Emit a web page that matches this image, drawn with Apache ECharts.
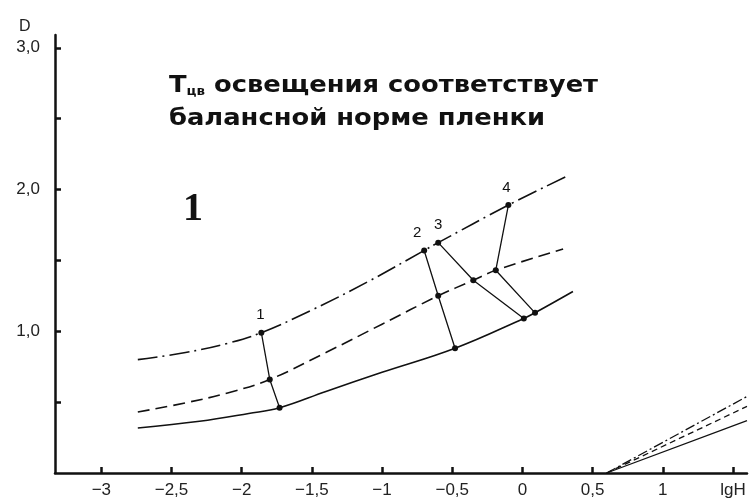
<!DOCTYPE html>
<html>
<head>
<meta charset="utf-8">
<script src="https://cdn.jsdelivr.net/npm/echarts@6/dist/echarts.min.js"></script>
<style>
  html, body { margin: 0; padding: 0; background: #fff; }
  #chart { width: 752px; height: 504px; }
</style>
</head>
<body>
<div id="chart"></div>
<script>
// Characteristic curves D(lgH); three film layers drawn with different line styles.
const xTickValues = [-3, -2.5, -2, -1.5, -1, -0.5, 0, 0.5, 1, 1.5];
const yTickValues = [0.5, 1, 1.5, 2, 2.5, 3];
const yLabelValues = [1, 2, 3];

// upper curve (dash-dot)
const curveDashDot = [
  [-2.74, 0.80], [-2.40, 0.85], [-2.10, 0.915], [-1.86, 0.99], [-1.50, 1.15],
  [-1.10, 1.35], [-0.70, 1.57], [-0.60, 1.625], [-0.10, 1.89], [0.33, 2.10]
];
// middle curve (dashed)
const curveDashed = [
  [-2.74, 0.43], [-2.40, 0.495], [-2.10, 0.565], [-1.80, 0.66], [-1.40, 0.85],
  [-1.00, 1.05], [-0.60, 1.25], [-0.35, 1.36], [-0.19, 1.43], [0.29, 1.58]
];
// lower curve (solid)
const curveSolid = [
  [-2.74, 0.318], [-2.30, 0.365], [-1.95, 0.42], [-1.73, 0.46], [-1.40, 0.575],
  [-1.00, 0.71], [-0.48, 0.88], [0.01, 1.09], [0.09, 1.13], [0.36, 1.28]
];

// exposure points 1..4 joined across the three curves
const linkNames = ['1', '2', '3', '4'];
const links = [
  [[-1.86, 0.99], [-1.80, 0.66], [-1.73, 0.46]],
  [[-0.70, 1.57], [-0.60, 1.25], [-0.48, 0.88]],
  [[-0.60, 1.625], [-0.35, 1.36], [0.01, 1.09]],
  [[-0.10, 1.89], [-0.19, 1.43], [0.09, 1.13]]
];

// short branches in the lower right corner
const tailDashDot = [[0.60, 0], [1.60, 0.54]];
const tailDashed = [[0.60, 0], [1.60, 0.47]];
const tailSolid = [[0.60, 0], [1.60, 0.37]];

const INK = '#111';
const FONT = 'Liberation Sans, Arial, sans-serif';
const TITLE_FONT = 'DejaVu Sans, sans-serif';

function fmtNum(v, keepDecimal) {
  let s = keepDecimal ? v.toFixed(1) : String(v);
  s = s.replace('.', ',');
  return s.replace('-', '\u2212');
}

const chart = echarts.init(document.getElementById('chart'), null, { renderer: 'canvas' });

function curve(data, dash) {
  return {
    type: 'line', data: data, smooth: 0.4, showSymbol: false, silent: true,
    lineStyle: { color: INK, width: 1.6, type: dash, cap: 'butt' }, z: 2
  };
}
function tail(data, dash) {
  return {
    type: 'line', data: data, showSymbol: false, silent: true,
    lineStyle: { color: INK, width: 1.3, type: dash }, z: 2
  };
}

const labelOffsets = [[-1, 0], [-7, 0], [0, 0], [-2, 0]];
const linkSeries = links.map((pts, i) => ({
  type: 'line', silent: true, z: 3,
  data: pts.map((p, j) => j === 0 ? {
    value: p,
    label: {
      show: true, formatter: linkNames[i], position: 'top', distance: 7,
      offset: labelOffsets[i], color: INK, fontSize: 15, fontFamily: FONT
    }
  } : { value: p }),
  symbol: 'circle', symbolSize: 6, showSymbol: true,
  itemStyle: { color: INK },
  lineStyle: { color: INK, width: 1.3 }
}));

chart.setOption({
  animation: false,
  backgroundColor: '#fff',
  grid: { left: 55, right: 5, top: 35, bottom: 31 },
  xAxis: {
    type: 'value', min: -3.33, max: 1.6,
    splitLine: { show: false },
    axisLine: { show: true, onZero: false, lineStyle: { color: INK, width: 2.5 } },
    axisTick: { show: true, inside: true, length: 6, customValues: xTickValues,
      lineStyle: { color: INK, width: 2.5 } },
    axisLabel: { customValues: xTickValues, margin: 9, color: '#222', fontSize: 17,
      fontFamily: FONT,
      formatter: v => (Math.abs(v - 1.5) < 1e-9 ? 'lgH' : fmtNum(v, false)) }
  },
  yAxis: {
    type: 'value', min: 0, max: 3.09,
    splitLine: { show: false },
    axisLine: { show: true, onZero: false, lineStyle: { color: INK, width: 2.5 } },
    axisTick: { show: true, inside: true, length: 6, customValues: yTickValues,
      lineStyle: { color: INK, width: 2.5 } },
    axisLabel: { customValues: yLabelValues, margin: 15, color: '#222', fontSize: 17,
      fontFamily: FONT, formatter: v => fmtNum(v, true) }
  },
  series: [
    curve(curveDashDot, [20, 5, 2, 5]),
    curve(curveDashed, [12, 6]),
    curve(curveSolid, 'solid'),
    tail(tailDashDot, [10, 3, 2, 3]),
    tail(tailDashed, [6, 4]),
    tail(tailSolid, 'solid')
  ].concat(linkSeries),
  graphic: [
    { type: 'text', left: 19, top: 19,
      style: { text: 'D', fontSize: 16, fontFamily: FONT, fill: '#222' } },
    { type: 'text', left: 183, top: 190,
      style: { text: '1', fontSize: 40, fontWeight: 'bold',
        fontFamily: 'Liberation Serif, Times New Roman, serif', fill: INK } },
    { type: 'text', x: 169, y: 70, scaleX: 1.12,
      style: {
        text: '{a|Т}{s|цв}{a| освещения соответствует}\n{a|балансной норме пленки}',
        lineHeight: 33,
        rich: {
          a: { fontSize: 23, fontWeight: 'bold', fontFamily: TITLE_FONT, fill: INK, lineHeight: 33 },
          s: { fontSize: 12, fontWeight: 'bold', fontFamily: TITLE_FONT, fill: INK,
               lineHeight: 33, padding: [10, 0, 0, 0] }
        }
      } }
  ]
});
</script>
</body>
</html>
